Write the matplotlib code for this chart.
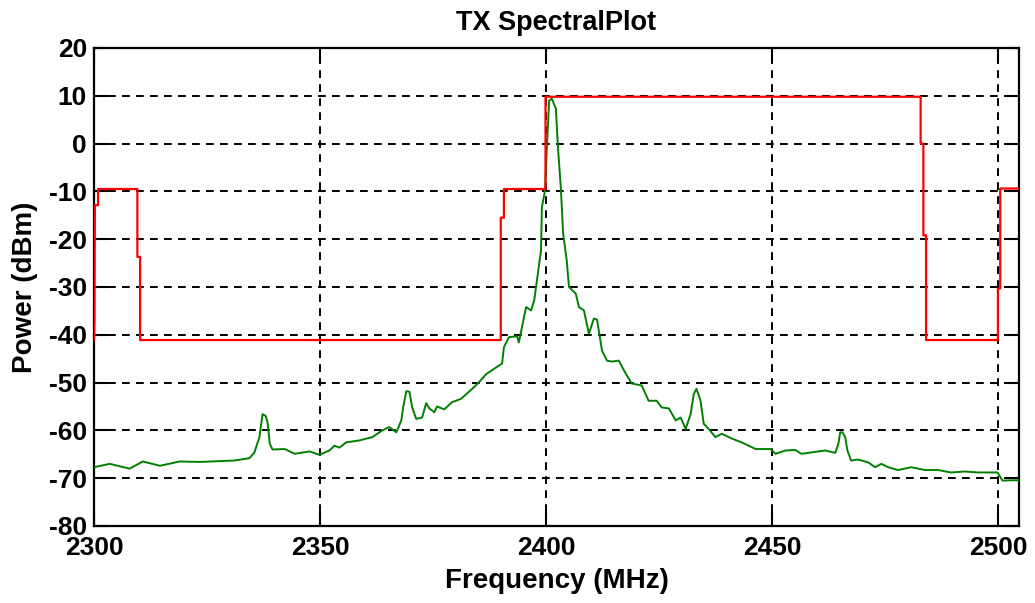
import matplotlib
matplotlib.use("Agg")
import matplotlib.pyplot as plt

# spectrum mask (red) - step vertices
mask_freq = [2300.0, 2300.1, 2300.2, 2300.9, 2300.9, 2309.6, 2309.6, 2310.2, 2310.2,
             2390.0, 2390.0, 2390.7, 2390.7, 2399.9, 2399.9, 2482.9, 2482.9, 2483.5,
             2483.5, 2484.1, 2484.1, 2500.0, 2500.0, 2500.5, 2500.5, 2505.0]
mask_power = [-41.1, -37.6, -12.9, -12.9, -9.5, -9.5, -23.7, -23.7, -41.1,
              -41.1, -15.5, -15.5, -9.5, -9.5, 9.8, 9.8, 0.0, 0.0,
              -19.2, -19.2, -41.1, -41.1, -30.3, -30.3, -9.4, -9.4]

# measured TX spectrum (green)
spec_freq = [2300.0, 2303.5, 2307.9, 2310.8, 2314.6, 2319.0, 2323.4, 2331.1, 2334.4, 2335.5,
             2336.6, 2337.3, 2338.0, 2338.4, 2338.9, 2339.5, 2342.2, 2344.4, 2347.7, 2349.9,
             2352.1, 2353.2, 2354.3, 2355.8, 2358.7, 2361.6, 2363.8, 2365.3, 2366.9, 2368.0,
             2368.4, 2369.1, 2369.8, 2370.4, 2371.3, 2372.6, 2373.5, 2374.2, 2375.3, 2375.9,
             2377.5, 2379.2, 2381.2, 2383.7, 2385.2, 2386.8, 2389.0, 2390.3, 2390.7, 2391.8,
             2393.6, 2394.0, 2394.7, 2395.6, 2396.7, 2397.4, 2398.0, 2398.9, 2399.1, 2399.8,
             2400.2, 2400.7, 2401.3, 2402.2, 2402.6, 2403.3, 2403.8, 2404.6, 2405.1, 2406.6,
             2407.3, 2408.4, 2409.5, 2410.6, 2411.3, 2412.4, 2413.5, 2414.6, 2416.1, 2417.7,
             2419.0, 2421.2, 2422.7, 2424.5, 2425.6, 2427.2, 2428.7, 2429.8, 2430.9, 2432.0,
             2432.7, 2433.3, 2434.2, 2434.9, 2436.0, 2437.5, 2438.9, 2441.1, 2443.3, 2446.4,
             2449.7, 2450.8, 2453.0, 2455.2, 2456.5, 2458.7, 2461.8, 2464.0, 2464.7, 2465.1,
             2465.6, 2466.2, 2466.7, 2467.5, 2469.1, 2471.3, 2472.8, 2474.2, 2475.7, 2477.9,
             2480.8, 2483.9, 2486.8, 2489.6, 2492.7, 2495.6, 2499.9, 2501.0, 2504.7]
spec_power = [-67.7, -67.0, -68.0, -66.5, -67.4, -66.5, -66.6, -66.3, -65.8, -64.6,
              -61.4, -56.6, -57.0, -58.3, -62.8, -64.0, -63.9, -64.9, -64.4, -65.1,
              -64.2, -63.2, -63.6, -62.5, -62.1, -61.4, -60.0, -59.3, -60.4, -57.9,
              -55.2, -51.8, -51.9, -55.2, -57.6, -57.3, -54.3, -55.4, -56.2, -55.0,
              -55.6, -54.1, -53.4, -51.3, -49.9, -48.2, -46.8, -46.0, -42.6, -40.5,
              -40.3, -41.6, -38.4, -34.2, -34.9, -32.8, -28.7, -22.4, -13.3, -9.8,
              -0.8, 9.0, 9.4, 7.3, 0.0, -9.4, -18.8, -24.5, -30.0, -31.4,
              -34.2, -34.9, -39.8, -36.6, -36.8, -43.3, -45.4, -45.6, -45.4, -48.2,
              -50.2, -50.6, -53.8, -53.8, -55.2, -55.4, -57.9, -57.3, -59.7, -56.6,
              -52.4, -51.3, -53.8, -58.6, -59.7, -61.4, -60.7, -61.7, -62.5, -63.9,
              -63.9, -64.9, -64.2, -64.1, -64.9, -64.6, -64.2, -64.7, -62.8, -60.4,
              -60.4, -61.4, -64.2, -66.3, -66.1, -66.7, -67.7, -67.0, -67.7, -68.3,
              -67.7, -68.3, -68.3, -68.8, -68.6, -68.8, -68.8, -70.5, -70.4]

x_ticks = [2300, 2350, 2400, 2450, 2500]
y_ticks = [20, 10, 0, -10, -20, -30, -40, -50, -60, -70, -80]


def main():
    plt.rcParams['font.family'] = ['Liberation Sans', 'DejaVu Sans']
    plt.rcParams['font.weight'] = 'bold'
    plt.rcParams['axes.unicode_minus'] = False

    fig = plt.figure(figsize=(10.35, 6.03), dpi=100)
    ax = fig.add_axes([0.0908, 0.1277, 0.8937, 0.7927])

    ax.plot(spec_freq, spec_power, color='#008000', lw=1.4, zorder=3)
    ax.plot(mask_freq, mask_power, color='#ff0000', lw=1.6, zorder=4)

    ax.set_xlim(2300, 2504.65)
    ax.set_ylim(-80, 20)
    ax.set_xticks(x_ticks)
    ax.set_yticks(y_ticks)

    ax.grid(True, color='black', lw=1.4, linestyle=(0, (4, 3.2)))
    ax.tick_params(direction='in', length=10, width=1.5, top=True, right=True,
                   labelsize=19, pad=5)
    ax.tick_params(axis='x', pad=7)
    for lab in ax.get_xticklabels() + ax.get_yticklabels():
        lab.set_fontweight('bold')
    for sp in ax.spines.values():
        sp.set_linewidth(1.6)

    ax.set_title("TX SpectralPlot", fontsize=19.5, fontweight='bold', pad=13)
    ax.set_xlabel("Frequency (MHz)", fontsize=20, fontweight='bold', labelpad=6)
    ax.set_ylabel("Power (dBm)", fontsize=20, fontweight='bold', labelpad=8)

    fig.savefig("out.png", dpi=100)


if __name__ == "__main__":
    main()
